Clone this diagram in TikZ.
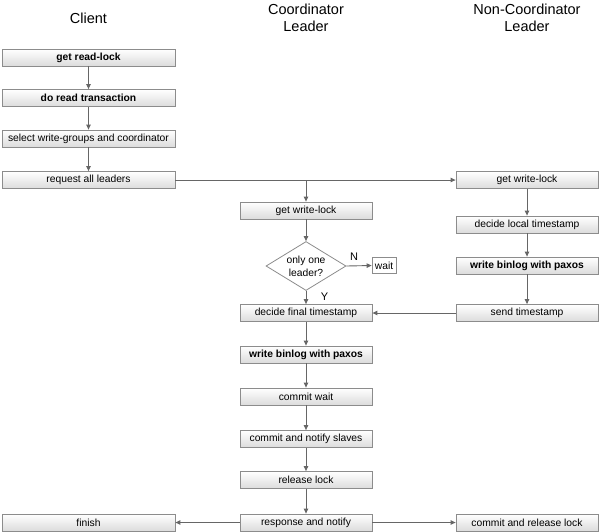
\documentclass[tikz,border=0pt]{standalone}
\usepackage{fontspec}
\setmainfont{Liberation Sans}
\usetikzlibrary{arrows.meta,shapes.geometric}
\definecolor{lineg}{HTML}{666666}
\definecolor{boxb}{HTML}{8C8C8C}
\definecolor{boxlow}{HTML}{DCDCDC}
\tikzset{
  x=1pt, y=-1pt,
  box/.style={draw=boxb, line width=0.8pt, top color=white, bottom color=boxlow,
    minimum height=17pt, inner sep=0pt, font=\fontsize{10.3}{12}\selectfont},
  cbox/.style={box, minimum width=173pt},
  kbox/.style={box, minimum width=132pt},
  nbox/.style={box, minimum width=142pt},
  bld/.style={font=\fontsize{10.3}{12}\selectfont\bfseries},
  head/.style={font=\fontsize{14.5}{17.5}\selectfont, align=center},
  conn/.style={draw=lineg, line width=0.9pt, -{Triangle[width=4.5pt,length=5pt]}},
  lbl/.style={font=\fontsize{11}{13}\selectfont, inner sep=0pt},
}
\begin{document}
\begin{tikzpicture}
\useasboundingbox (0,0) rectangle (600,531);
% headers
\node[head] (hc) at (88.5,18) {Client};
\node[head] (hk) at (306,18) {Coordinator\\Leader};
\node[head] (hn) at (527,18) {Non-Coordinator\\Leader};
% client column
\node[cbox,bld] (rl) at (88.5,57.5) {get read-lock};
\node[cbox,bld] (drt) at (88.5,98) {do read transaction};
\node[cbox] (sel) at (88.5,138.5) {select write-groups and coordinator};
\node[cbox] (req) at (88.5,180) {request all leaders};
\node[cbox] (fin) at (88.5,522.5) {finish};
% coordinator column
\node[kbox] (cwl) at (306,210.5) {get write-lock};
\node[diamond, draw=boxb, line width=0.8pt, fill=white, minimum width=80pt, minimum height=49pt,
  aspect=1.67, inner sep=0pt, align=center, font=\fontsize{10.3}{13}\selectfont] (dia) at (306,266) {only one\\leader?};
\node[draw=boxb, line width=0.8pt, fill=white, minimum width=24pt, minimum height=16pt, inner sep=0pt,
  font=\fontsize{10.3}{12}\selectfont] (wt) at (384,265.5) {wait};
\node[kbox] (dft) at (306,313) {decide final timestamp};
\node[kbox,bld] (cwb) at (306,354.5) {write binlog with paxos};
\node[kbox] (cw) at (306,396.5) {commit wait};
\node[kbox] (cns) at (306,439) {commit and notify slaves};
\node[kbox] (rel) at (306,480) {release lock};
\node[kbox] (rsp) at (306,522.5) {response and notify};
% non-coordinator column
\node[nbox] (nwl) at (527,180) {get write-lock};
\node[nbox] (dlt) at (527,224.5) {decide local timestamp};
\node[nbox,bld] (nwb) at (527,265.5) {write binlog with paxos};
\node[nbox] (st) at (527,313) {send timestamp};
\node[nbox] (crl) at (527,522.5) {commit and release lock};
% connectors
\draw[conn] (rl) -- (drt);
\draw[conn] (drt) -- (sel);
\draw[conn] (sel) -- (req);
\draw[conn] (req) -- (nwl);
\coordinate (br) at (cwl.north |- req.east);
\draw[conn] (br) -- (cwl);
\draw[conn] (cwl) -- (dia);
\draw[conn] (dia.east) -- (wt.west);
\node[lbl] (ln) at (354,257) {N};
\draw[conn] (dia.south) -- (dft.north);
\node[lbl] (ly) at (324.5,296.5) {Y};
\draw[conn] (dft) -- (cwb);
\draw[conn] (cwb) -- (cw);
\draw[conn] (cw) -- (cns);
\draw[conn] (cns) -- (rel);
\draw[conn] (rel) -- (rsp);
\draw[conn] (rsp) -- (fin);
\draw[conn] (rsp) -- (crl);
\draw[conn] (nwl) -- (dlt);
\draw[conn] (dlt) -- (nwb);
\draw[conn] (nwb) -- (st);
\draw[conn] (st) -- (dft);
\end{tikzpicture}
\end{document}
